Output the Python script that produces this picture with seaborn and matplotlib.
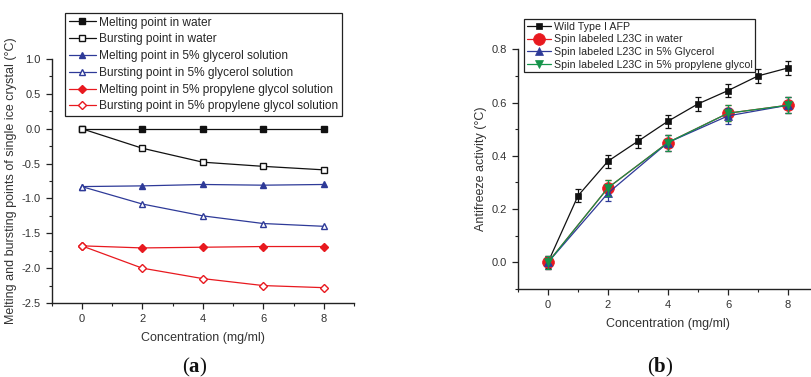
import matplotlib
matplotlib.use("Agg")
import matplotlib.pyplot as plt
import seaborn as sns
import pandas as pd
import numpy as np
from matplotlib.ticker import MultipleLocator

# ---------------- data (a) ----------------
conc_a = [0, 2, 4, 6, 8]
melt_water = [0.0, 0.0, 0.0, 0.0, 0.0]
burst_water = [0.0, -0.28, -0.48, -0.54, -0.59]
melt_glyc = [-0.83, -0.82, -0.80, -0.81, -0.80]
burst_glyc = [-0.83, -1.08, -1.25, -1.36, -1.40]
melt_pg = [-1.68, -1.71, -1.70, -1.69, -1.69]
burst_pg = [-1.68, -2.00, -2.15, -2.25, -2.28]
labels_a = ["Melting point in water", "Bursting point in water",
            "Melting point in 5% glycerol solution", "Bursting point in 5% glycerol solution",
            "Melting point in 5% propylene glycol solution", "Bursting point in 5% propylene glycol solution"]

# ---------------- data (b) ----------------
conc_wt = [0, 1, 2, 3, 4, 5, 6, 7, 8]
wild_type = [0.0, 0.25, 0.38, 0.455, 0.53, 0.595, 0.645, 0.70, 0.73]
wild_type_err = [0.02, 0.025, 0.025, 0.025, 0.025, 0.025, 0.025, 0.025, 0.025]
conc_sl = [0, 2, 4, 6, 8]
sl_water = [0.0, 0.28, 0.45, 0.56, 0.59]
sl_water_err = [0.025, 0.03, 0.03, 0.03, 0.03]
sl_glyc = [0.0, 0.26, 0.45, 0.55, 0.59]
sl_glyc_err = [0.025, 0.03, 0.03, 0.03, 0.03]
sl_pg = [0.0, 0.28, 0.45, 0.56, 0.59]
sl_pg_err = [0.025, 0.03, 0.03, 0.03, 0.03]
labels_b = ["Wild Type I AFP", "Spin labeled L23C in water",
            "Spin labeled L23C in 5% Glycerol", "Spin labeled L23C in 5% propylene glycol"]

sns.set_theme(style="ticks")
plt.rcParams['font.family'] = ['Liberation Sans', 'DejaVu Sans']
plt.rcParams['mathtext.fontset'] = 'custom'
plt.rcParams['mathtext.rm'] = 'Liberation Serif'
plt.rcParams['mathtext.bf'] = 'Liberation Serif:bold'

BLACK = "#111111"
BLUE = "#2E3A98"
RED = "#E8191F"
GREEN = "#14944A"
TXT = "#333333"

fig = plt.figure(figsize=(8.12, 3.77), dpi=100)
ax_a = fig.add_axes([51.5 / 812, 74 / 377, 302.5 / 812, 244 / 377])
ax_b = fig.add_axes([518 / 812, 88 / 377, 300 / 812, 239.7 / 377])


def style_axes(ax):
    for s in ["top", "right"]:
        ax.spines[s].set_visible(False)
    for s in ["left", "bottom"]:
        ax.spines[s].set_linewidth(1.0)
        ax.spines[s].set_color("#222222")
    ax.tick_params(which="major", direction="out", length=4, width=0.9, color="#222222",
                   labelsize=8, labelcolor=TXT, pad=4)
    ax.tick_params(which="minor", direction="out", length=2.2, width=0.8, color="#222222")


# ---------------- panel (a) ----------------
series_a = [
    (melt_water, BLACK, "s", BLACK),
    (burst_water, BLACK, "s", "white"),
    (melt_glyc, BLUE, "^", BLUE),
    (burst_glyc, BLUE, "^", "white"),
    (melt_pg, RED, "D", RED),
    (burst_pg, RED, "D", "white"),
]
for (vals, col, mk, fc), lab in zip(series_a, labels_a):
    df = pd.DataFrame({"x": conc_a, "y": vals})
    ms = 4.3 if mk == "s" else (5 if mk == "^" else 4.3)
    sns.lineplot(data=df, x="x", y="y", ax=ax_a, color=col, marker=mk, markersize=ms,
                 markerfacecolor=fc, markeredgecolor=col, markeredgewidth=1.0,
                 linewidth=0.9, label=lab, legend=False)

ax_a.set_xlim(-1, 9)
ax_a.set_ylim(-2.5, 1.0)
ax_a.xaxis.set_major_locator(MultipleLocator(2))
ax_a.xaxis.set_minor_locator(MultipleLocator(1))
ax_a.set_yticks(np.arange(-2.5, 1.01, 0.5))
ax_a.set_yticklabels([f"{v:.1f}" for v in np.arange(-2.5, 1.01, 0.5)])
ax_a.yaxis.set_minor_locator(MultipleLocator(0.25))
style_axes(ax_a)
ax_a.set_xlabel("Concentration (mg/ml)", fontsize=9, color=TXT, labelpad=6)
ax_a.set_ylabel("Melting and bursting points of single ice crystal (°C)", fontsize=9,
                color=TXT)
ax_a.yaxis.set_label_coords((17 - 51.5) / 302.5, 0.5)

h, l = ax_a.get_legend_handles_labels()
leg_a = ax_a.legend(h, l, loc="upper left", bbox_to_anchor=(65 / 812, 1 - 13 / 377),
                    bbox_transform=fig.transFigure, fontsize=8.6, frameon=True, fancybox=False,
                    edgecolor="#222222", framealpha=1, borderaxespad=0, borderpad=0.3,
                    labelspacing=0.4, handlelength=2.3, handletextpad=0.25)
leg_a.get_frame().set_linewidth(0.9)

# ---------------- panel (b) ----------------
series_b = [
    (conc_wt, wild_type, wild_type_err, BLACK, "s", 4.5, 3),
    (conc_sl, sl_water, sl_water_err, RED, "o", 8.5, 4),
    (conc_sl, sl_glyc, sl_glyc_err, BLUE, "^", 6, 5),
    (conc_sl, sl_pg, sl_pg_err, GREEN, "v", 5.5, 6),
]
for (xs, vals, errs, col, mk, ms, z), lab in zip(series_b, labels_b):
    df = pd.DataFrame({"x": xs, "y": vals})
    ax_b.errorbar(xs, vals, yerr=errs, fmt="none", ecolor=col, elinewidth=0.9,
                  capsize=2.5, capthick=0.9, zorder=z)
    sns.lineplot(data=df, x="x", y="y", ax=ax_b, color=col, marker=mk, markersize=ms,
                 markerfacecolor=col, markeredgecolor=col, markeredgewidth=0.5,
                 linewidth=0.9, label=lab, legend=False, zorder=z)

ax_b.set_xlim(-1, 9)
ax_b.set_ylim(-0.1, 0.8)
ax_b.xaxis.set_major_locator(MultipleLocator(2))
ax_b.xaxis.set_minor_locator(MultipleLocator(1))
ax_b.set_yticks([0.0, 0.2, 0.4, 0.6, 0.8])
ax_b.set_yticklabels(["0.0", "0.2", "0.4", "0.6", "0.8"])
ax_b.yaxis.set_minor_locator(MultipleLocator(0.1))
style_axes(ax_b)
ax_b.set_xlabel("Concentration (mg/ml)", fontsize=9, color=TXT, labelpad=6)
ax_b.set_ylabel("Antifreeze activity (°C)", fontsize=9, color=TXT)
ax_b.yaxis.set_label_coords((487 - 518) / 300, 0.5)

h, l = ax_b.get_legend_handles_labels()
leg_b = ax_b.legend(h, l, loc="upper left", bbox_to_anchor=(524 / 812, 1 - 19 / 377),
                    bbox_transform=fig.transFigure, fontsize=7.7, frameon=True, fancybox=False,
                    edgecolor="#222222", framealpha=1, borderaxespad=0, borderpad=0.25,
                    labelspacing=0.25, handlelength=2.3, handletextpad=0.25)
leg_b.get_frame().set_linewidth(0.9)

fig.text(195 / 812, 1 - 367 / 377, r"($\mathbf{a}$)", ha="center", va="center",
         fontsize=15, family="Liberation Serif", color="#111111")
fig.text(660 / 812, 1 - 367 / 377, r"($\mathbf{b}$)", ha="center", va="center",
         fontsize=15, family="Liberation Serif", color="#111111")

fig.savefig("out.png", dpi=100)
